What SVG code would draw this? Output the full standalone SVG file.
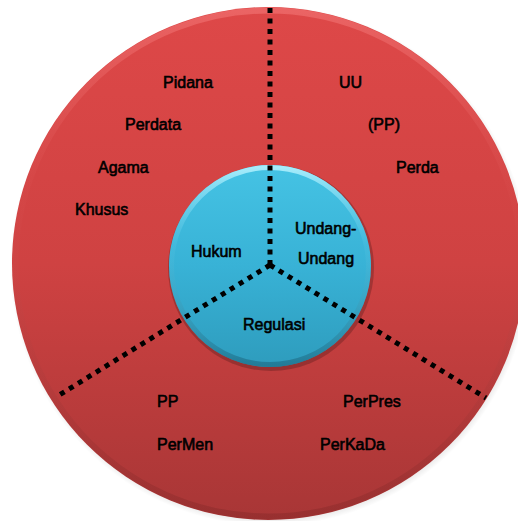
<svg xmlns="http://www.w3.org/2000/svg" width="518" height="521" viewBox="0 0 518 521">
  <defs>
    <linearGradient id="redFill" x1="0" y1="0" x2="0" y2="1">
      <stop offset="0" stop-color="#de4848"/>
      <stop offset="0.5" stop-color="#cf4242"/>
      <stop offset="1" stop-color="#a83636"/>
    </linearGradient>
    <linearGradient id="redRim" x1="0" y1="0" x2="0" y2="1">
      <stop offset="0" stop-color="#f07070" stop-opacity="0.7"/>
      <stop offset="0.35" stop-color="#e05a5a" stop-opacity="0.1"/>
      <stop offset="1" stop-color="#7a2424" stop-opacity="0.35"/>
    </linearGradient>
    <linearGradient id="blueFill" x1="0" y1="0" x2="0" y2="1">
      <stop offset="0" stop-color="#45c3e4"/>
      <stop offset="0.5" stop-color="#38b2d6"/>
      <stop offset="1" stop-color="#2e9cbd"/>
    </linearGradient>
    <linearGradient id="blueRim" x1="0" y1="0" x2="0" y2="1">
      <stop offset="0" stop-color="#a6ecfb"/>
      <stop offset="0.4" stop-color="#5cc8e6" stop-opacity="0.2"/>
      <stop offset="1" stop-color="#1d6e88" stop-opacity="0.7"/>
    </linearGradient>
    <radialGradient id="shadow" cx="0.5" cy="0.5" r="0.5">
      <stop offset="0.9" stop-color="#000" stop-opacity="0.3"/>
      <stop offset="1" stop-color="#000" stop-opacity="0"/>
    </radialGradient>
  </defs>
  <style>
    .lbl { font-family: "Liberation Sans", Arial, sans-serif; font-size: 16px; fill: #000; stroke: #000; stroke-width: 0.6; }
    .dot { fill: none; stroke: #000; stroke-width: 5; stroke-dasharray: 5 5.5; }
  </style>
  <rect width="518" height="521" fill="#fff"/>

  <g id="outer-ring">
    <circle cx="270" cy="266" r="260" fill="url(#shadow)"/>
    <circle cx="268.5" cy="263.5" r="256.5" fill="url(#redFill)"/>
    <circle cx="268.5" cy="263.5" r="253" fill="none" stroke="url(#redRim)" stroke-width="6"/>
  </g>

  <g id="center">
    <circle cx="271" cy="268" r="103" fill="#000" opacity="0.2"/>
    <circle cx="270" cy="266" r="101" fill="url(#blueFill)"/>
    <circle cx="270" cy="266" r="98.5" fill="none" stroke="url(#blueRim)" stroke-width="5"/>
  </g>

  <g id="connectors">
    <line class="dot" x1="270" y1="265" x2="270" y2="8"/>
    <line class="dot" x1="270" y1="265" x2="56" y2="397"/>
    <line class="dot" x1="270" y1="265" x2="486" y2="398"/>
  </g>

  <g id="hukum">
    <text class="lbl" x="191" y="257">Hukum</text>
    <text class="lbl" x="163" y="87.5">Pidana</text>
    <text class="lbl" x="125" y="130">Perdata</text>
    <text class="lbl" x="98" y="172.5">Agama</text>
    <text class="lbl" x="75" y="215">Khusus</text>
  </g>

  <g id="undang-undang">
    <text class="lbl" x="295" y="234">Undang-</text>
    <text class="lbl" x="298" y="264">Undang</text>
    <text class="lbl" x="339" y="87.5">UU</text>
    <text class="lbl" x="368" y="130">(PP)</text>
    <text class="lbl" x="396" y="172.5">Perda</text>
  </g>

  <g id="regulasi">
    <text class="lbl" x="243" y="329.5">Regulasi</text>
    <text class="lbl" x="157" y="407">PP</text>
    <text class="lbl" x="157" y="450">PerMen</text>
    <text class="lbl" x="343" y="407">PerPres</text>
    <text class="lbl" x="320" y="450">PerKaDa</text>
  </g>
</svg>
